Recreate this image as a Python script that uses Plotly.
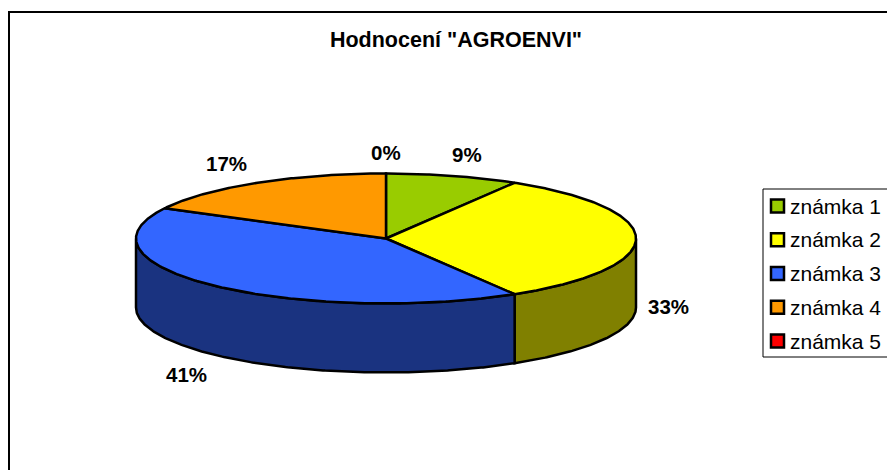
import numpy as np
import plotly.graph_objects as go

CATEGORIES = ["známka 1", "známka 2", "známka 3", "známka 4", "známka 5"]
SHARES = [8.6, 32.8, 41.3, 17.3, 0]

TITLE = 'Hodnocení "AGROENVI"'

COLORS_TOP = ["#99CC00", "#FFFF00", "#3366FF", "#FF9900", "#FF0000"]
COLORS_SIDE = ["#4D6600", "#808000", "#1A3380", "#804D00", "#800000"]

FONT = "Liberation Sans, Arial, sans-serif"

PAGE_W, PAGE_H = 887, 470

# pie geometry, in page pixels
CX, CY = 386, 238.5
RX, RY = 250, 65
DEPTH = 69

LABEL_POS = {0: (467, 154), 1: (668, 306), 2: (186, 374), 3: (226, 163), 4: (386, 152)}


def rim(start, end, drop=0):
    # angles in degrees, clockwise from the top of the pie
    t = np.radians(np.linspace(start, end, max(int(abs(end - start)) * 2, 2)))
    return CX + RX * np.sin(t), CY + drop - RY * np.cos(t)


def add_poly(fig, xs, ys, color):
    fig.add_trace(
        go.Scatter(
            x=xs,
            y=ys,
            mode="lines",
            fill="toself",
            fillcolor=color,
            line=dict(color="black", width=2.5),
            showlegend=False,
            hoverinfo="skip",
        )
    )


fig = go.Figure()

edges = np.cumsum([0] + SHARES) * 3.6

# side wall first, only the front half of the rim shows
for i in range(len(SHARES)):
    start, end = max(edges[i], 90), min(edges[i + 1], 270)
    if end <= start:
        continue
    x_top, y_top = rim(start, end)
    x_low, y_low = rim(end, start, DEPTH)
    add_poly(
        fig,
        np.r_[x_top, x_low, x_top[0]],
        np.r_[y_top, y_low, y_top[0]],
        COLORS_SIDE[i],
    )

# top face
for i in range(len(SHARES)):
    if SHARES[i] == 0:
        continue
    x_arc, y_arc = rim(edges[i], edges[i + 1])
    add_poly(fig, np.r_[CX, x_arc, CX], np.r_[CY, y_arc, CY], COLORS_TOP[i])

# percent labels
for i, share in enumerate(SHARES):
    x, y = LABEL_POS[i]
    fig.add_annotation(
        x=x, y=y, text=f"<b>{share:.0f}%</b>", showarrow=False,
        font=dict(family=FONT, size=20.5, color="black"),
    )

# legend
row_y = [206 + 33.75 * i for i in range(len(CATEGORIES))]
fig.add_trace(
    go.Scatter(
        x=[777.5] * len(CATEGORIES),
        y=row_y,
        mode="markers",
        marker=dict(
            symbol="square",
            size=13,
            color=COLORS_TOP,
            line=dict(color="black", width=2.5),
        ),
        showlegend=False,
        hoverinfo="skip",
    )
)
for name, y in zip(CATEGORIES, row_y):
    fig.add_annotation(
        x=787.5, y=y, text=name, showarrow=False, xanchor="left",
        font=dict(family=FONT, size=21, color="black"),
    )

fig.add_shape(type="rect", x0=763, y0=189, x1=900, y1=357, line=dict(color="black", width=1), layer="below")
# chart frame runs off the page on the right and at the bottom
fig.add_shape(type="rect", x0=9, y0=12, x1=900, y1=490, line=dict(color="black", width=2), layer="below")

fig.update_layout(
    title=dict(
        text=f"<b>{TITLE}</b>",
        x=456 / PAGE_W,
        xanchor="center",
        y=1 - 39 / PAGE_H,
        yanchor="middle",
        font=dict(family=FONT, size=21.5, color="black"),
    ),
    width=PAGE_W,
    height=PAGE_H,
    margin=dict(l=0, r=0, t=0, b=0),
    paper_bgcolor="white",
    plot_bgcolor="white",
    xaxis=dict(range=[0, PAGE_W], visible=False, fixedrange=True),
    yaxis=dict(range=[PAGE_H, 0], visible=False, fixedrange=True),
    showlegend=False,
)

fig.write_html(
    "out.html",
    config={"displayModeBar": False},
    post_script="document.body.style.margin = 0;",
)
